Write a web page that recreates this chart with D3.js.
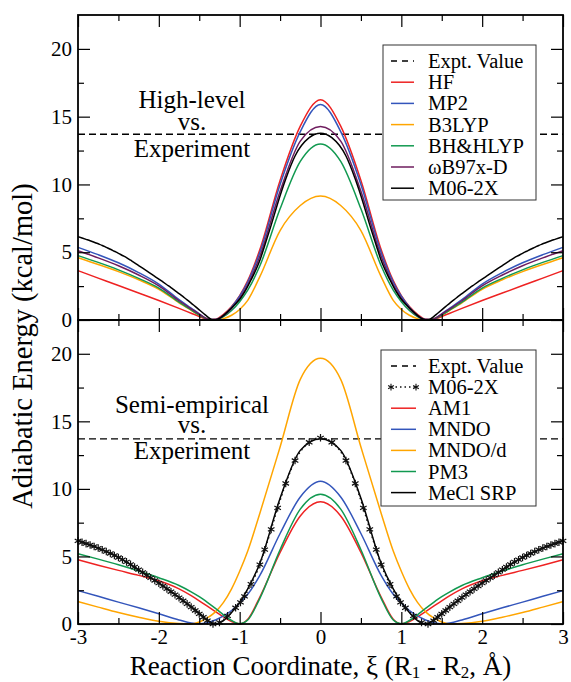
<!DOCTYPE html>
<html>
<head>
<meta charset="utf-8">
<script src="https://cdn.jsdelivr.net/npm/d3@7"></script>
<style>
    body { margin: 0; background: #fff; }
    svg text { font-family: "Liberation Serif", "Times New Roman", serif; fill: #000; }
</style>
</head>
<body>
<div id="chart"></div>
<script>

// reaction coordinate grid shared by most curves
const gridX = [-3, -2.75, -2.5, -2.25, -2, -1.75, -1.6, -1.5, -1.4, -1.3, -1.2, -1.1, -1, -0.9, -0.75, -0.5, -0.25,
    0, 0.25, 0.5, 0.75, 0.9, 1, 1.1, 1.2, 1.3, 1.4, 1.5, 1.6, 1.75, 2, 2.25, 2.5, 2.75, 3];

const exptValue = 13.7;

// high-level methods (top panel)
const hf = [3.64, 3.09, 2.54, 1.99, 1.44, 0.86, 0.5, 0.26, 0.04, 0.06, 0.42, 1.0, 1.8, 2.9, 5.2, 10.3, 14.3,
    16.25, 14.3, 10.3, 5.2, 2.9, 1.8, 1.0, 0.42, 0.06, 0.04, 0.26, 0.5, 0.86, 1.44, 1.99, 2.54, 3.09, 3.64];
const mp2 = [5.36, 4.82, 4.22, 3.5, 2.65, 1.5, 0.88, 0.46, 0.08, 0.04, 0.35, 0.95, 1.75, 2.8, 5.0, 10.0, 13.9,
    15.9, 13.9, 10.0, 5.0, 2.8, 1.75, 0.95, 0.35, 0.04, 0.08, 0.46, 0.88, 1.5, 2.65, 3.5, 4.22, 4.82, 5.36];
const b3lyp = [4.6, 4.1, 3.57, 2.97, 2.27, 1.27, 0.72, 0.36, 0.07, 0.0, 0.1, 0.35, 0.78, 1.45, 3.2, 6.6, 8.45,
    9.15, 8.45, 6.6, 3.2, 1.45, 0.78, 0.35, 0.1, 0.0, 0.07, 0.36, 0.72, 1.27, 2.27, 2.97, 3.57, 4.1, 4.6];
const bhhlyp = [4.75, 4.25, 3.7, 3.07, 2.35, 1.32, 0.74, 0.37, 0.07, 0.02, 0.25, 0.7, 1.35, 2.2, 4.0, 8.2, 11.7,
    12.99, 11.7, 8.2, 4.0, 2.2, 1.35, 0.7, 0.25, 0.02, 0.07, 0.37, 0.74, 1.32, 2.35, 3.07, 3.7, 4.25, 4.75];
const wb97xd = [5.11, 4.58, 4.0, 3.32, 2.52, 1.42, 0.82, 0.43, 0.08, 0.03, 0.3, 0.85, 1.6, 2.6, 4.7, 9.5, 13.2,
    14.27, 13.2, 9.5, 4.7, 2.6, 1.6, 0.85, 0.3, 0.03, 0.08, 0.43, 0.82, 1.42, 2.52, 3.32, 4.0, 4.58, 5.11];

// M06-2X is read at its own (IRC) points, these are also the markers in the lower panel
const m06X = [-3, -2.95, -2.9, -2.85, -2.8, -2.75, -2.7, -2.65, -2.6, -2.55, -2.5, -2.45, -2.4, -2.35, -2.3,
    -2.25, -2.2, -2.15, -2.1, -2.05, -2, -1.95, -1.9, -1.85, -1.8, -1.75, -1.7, -1.65, -1.6, -1.55, -1.5,
    -1.45, -1.4, -1.33, -1.25, -1.15, -1.05, -0.99, -0.94, -0.86, -0.75, -0.69, -0.61, -0.53, -0.43, -0.315,
    -0.14, 0, 0.14, 0.315, 0.43, 0.53, 0.61, 0.69, 0.75, 0.86, 0.94, 0.99, 1.05, 1.15, 1.25, 1.33,
    1.4, 1.45, 1.5, 1.55, 1.6, 1.65, 1.7, 1.75, 1.8, 1.85, 1.9, 1.95, 2, 2.05, 2.1, 2.15, 2.2, 2.25,
    2.3, 2.35, 2.4, 2.45, 2.5, 2.55, 2.6, 2.65, 2.7, 2.75, 2.8, 2.85, 2.9, 2.95, 3];
const m06 = [6.15, 6.05, 5.95, 5.85, 5.74, 5.62, 5.5, 5.36, 5.22, 5.07, 4.92, 4.76, 4.6, 4.41, 4.22,
    4.02, 3.82, 3.62, 3.42, 3.22, 3.02, 2.81, 2.6, 2.39, 2.17, 1.95, 1.72, 1.49, 1.25, 1.0, 0.75,
    0.5, 0.25, 0.0, 0.12, 0.6, 1.2, 1.6, 2.05, 2.95, 4.4, 5.5, 7.0, 8.6, 10.4, 12.1,
    13.45, 13.78, 13.45, 12.1, 10.4, 8.6, 7.0, 5.5, 4.4, 2.95, 2.05, 1.6, 1.2, 0.6, 0.12, 0.0,
    0.25, 0.5, 0.75, 1.0, 1.25, 1.49, 1.72, 1.95, 2.17, 2.39, 2.6, 2.81, 3.02, 3.22, 3.42, 3.62, 3.82, 4.02,
    4.22, 4.41, 4.6, 4.76, 4.92, 5.07, 5.22, 5.36, 5.5, 5.62, 5.74, 5.85, 5.95, 6.05, 6.15];

// semi-empirical methods (bottom panel)
const am1 = [4.75, 4.35, 3.97, 3.6, 3.2, 2.6, 2.1, 1.72, 1.32, 0.92, 0.52, 0.18, 0.0, 0.35, 2.0, 5.3, 8.0,
    9.05, 8.0, 5.3, 2.0, 0.35, 0.0, 0.18, 0.52, 0.92, 1.32, 1.72, 2.1, 2.6, 3.2, 3.6, 3.97, 4.35, 4.75];
const mndo = [2.47, 2.05, 1.62, 1.2, 0.76, 0.3, 0.07, 0.02, 0.1, 0.3, 0.6, 1.0, 1.55, 2.2, 3.6, 6.7, 9.4,
    10.56, 9.4, 6.7, 3.6, 2.2, 1.55, 1.0, 0.6, 0.3, 0.1, 0.02, 0.07, 0.3, 0.76, 1.2, 1.62, 2.05, 2.47];
const mndod = [1.66, 1.25, 0.85, 0.5, 0.2, 0.03, 0.0, 0.15, 0.45, 0.9, 1.6, 2.6, 3.9, 5.4, 8.2, 13.1, 18.1,
    19.66, 18.1, 13.1, 8.2, 5.4, 3.9, 2.6, 1.6, 0.9, 0.45, 0.15, 0.0, 0.03, 0.2, 0.5, 0.85, 1.25, 1.66];
const pm3 = [5.2, 4.8, 4.38, 3.92, 3.42, 2.85, 2.38, 2.02, 1.6, 1.15, 0.68, 0.26, 0.02, 0.3, 1.9, 5.5, 8.5,
    9.6, 8.5, 5.5, 1.9, 0.3, 0.02, 0.26, 0.68, 1.15, 1.6, 2.02, 2.38, 2.85, 3.42, 3.92, 4.38, 4.8, 5.2];
const meclSrp = [6.2, 5.6, 4.95, 3.98, 3.05, 1.98, 1.28, 0.8, 0.3, 0.0, 0.25, 0.85, 1.6, 2.6, 4.5, 9.3, 12.85,
    13.72, 12.85, 9.3, 4.5, 2.6, 1.6, 0.85, 0.25, 0.0, 0.3, 0.8, 1.28, 1.98, 3.05, 3.98, 4.95, 5.6, 6.2];

// axis ticks
const yTicks = [0, 5, 10, 15, 20];
const yMinorTicks = [2.5, 7.5, 12.5, 17.5];
const xTicks = [-3, -2, -1, 0, 1, 2, 3];
const xMinorTicks = [-2.5, -1.5, -0.5, 0.5, 1.5, 2.5];

const colors = {
    red: "#ee2222", blue: "#3355bb", orange: "#ffa500",
    green: "#119950", purple: "#6e1c5e", black: "#000"
};


class EnergyPanel {

    constructor(svg, config) {
        this.svg = svg;
        this.config = config;

        this.initVis();
    }

    /*
     * Frame, scales and axes
     */

    initVis() {
        let vis = this;

        vis.margin = { left: 78, top: vis.config.top };
        vis.width = 485;
        vis.height = vis.config.height;

        vis.g = vis.svg.append("g")
            .attr("transform", "translate(" + vis.margin.left + "," + vis.margin.top + ")");

        vis.x = d3.scaleLinear()
            .domain([-3, 3])
            .range([0, vis.width]);

        vis.y = d3.scaleLinear()
            .domain([0, 22.5])
            .range([vis.height, 0]);

        vis.updateVis();
    }


    /*
     * The drawing function
     */

    updateVis() {
        let vis = this;

        // experimental barrier
        vis.g.append("line")
            .attr("x1", 0)
            .attr("x2", vis.width)
            .attr("y1", vis.y(exptValue))
            .attr("y2", vis.y(exptValue))
            .attr("stroke", "#000")
            .attr("stroke-width", 1.4)
            .attr("stroke-dasharray", "7,4");

        vis.line = d3.line()
            .x(d => vis.x(d.x))
            .y(d => vis.y(d.y))
            .curve(d3.curveMonotoneX);

        vis.config.series.forEach(s => {
            let xs = s.xs || gridX;
            let pts = xs.map((v, i) => ({ x: v, y: s.values[i] }));

            vis.g.append("path")
                .datum(pts)
                .attr("fill", "none")
                .attr("stroke", s.color)
                .attr("stroke-width", s.dotted ? 1.6 : 1.5)
                .attr("stroke-dasharray", s.dotted ? "1.5,3" : null)
                .attr("d", vis.line);

            if (s.markers) {
                vis.g.append("g")
                    .selectAll("path")
                    .data(pts)
                    .join("path")
                    .attr("transform", d => "translate(" + vis.x(d.x) + "," + vis.y(d.y) + ")")
                    .attr("d", d3.symbol(d3.symbolAsterisk, 40))
                    .attr("fill", "none")
                    .attr("stroke", "#111")
                    .attr("stroke-width", 1.2);
            }
        });

        // axes, ticks point inwards on all four sides
        let axes = [
            { gen: d3.axisLeft, scale: vis.y, t: null, major: yTicks, minor: yMinorTicks, labels: true },
            { gen: d3.axisRight, scale: vis.y, t: "translate(" + vis.width + ",0)", major: yTicks, minor: yMinorTicks },
            { gen: d3.axisTop, scale: vis.x, t: null, major: xTicks, minor: xMinorTicks },
            { gen: d3.axisBottom, scale: vis.x, t: "translate(0," + vis.height + ")", major: xTicks, minor: xMinorTicks,
                labels: vis.config.xLabels }
        ];

        axes.forEach(a => {
            let major = a.gen(a.scale)
                .tickValues(a.major)
                .tickSize(-12)
                .tickPadding(a.gen === d3.axisBottom ? 5 : 6)
                .tickFormat(a.labels ? (d => String(d)) : "");
            let minor = a.gen(a.scale)
                .tickValues(a.minor)
                .tickSize(-6)
                .tickFormat("");

            let ga = vis.g.append("g").attr("transform", a.t).call(major);
            let gm = vis.g.append("g").attr("transform", a.t).call(minor);
            [ga, gm].forEach(g => {
                g.select(".domain").remove();
                g.selectAll("line").attr("stroke", "#000").attr("stroke-width", 1.2);
            });
            ga.selectAll("text")
                .attr("font-size", 21)
                .attr("fill", "#000")
                .style("font-family", "Liberation Serif");
        });

        vis.g.append("rect")
            .attr("width", vis.width)
            .attr("height", vis.height)
            .attr("fill", "none")
            .attr("stroke", "#000")
            .attr("stroke-width", 1.8);

        // legend box
        let lg = vis.config.legend;
        let legend = vis.svg.append("g");
        legend.append("rect")
            .attr("x", lg.x)
            .attr("y", lg.y)
            .attr("width", lg.w)
            .attr("height", lg.h)
            .attr("fill", "#fff")
            .attr("stroke", "#333")
            .attr("stroke-width", 1);

        lg.items.forEach((item, i) => {
            let cy = lg.firstRow + i * lg.step;
            let row = legend.append("g");
            row.append("line")
                .attr("x1", lg.x1).attr("x2", lg.x2)
                .attr("y1", cy).attr("y2", cy)
                .attr("stroke", item.color)
                .attr("stroke-width", 1.5)
                .attr("stroke-dasharray", item.dash ? "6,5" : (item.dotted ? "1.5,3" : null));
            if (item.markers) {
                row.selectAll("path")
                    .data([lg.x1, lg.x2])
                    .join("path")
                    .attr("transform", d => "translate(" + d + "," + cy + ")")
                    .attr("d", d3.symbol(d3.symbolAsterisk, 30))
                    .attr("stroke", "#111")
                    .attr("stroke-width", 1.1);
            }
            row.append("text")
                .attr("x", lg.textX)
                .attr("y", cy + 7)
                .attr("font-size", 20.5)
                .text(item.label);
        });

        // annotation
        let note = vis.svg.append("text")
            .attr("text-anchor", "middle")
            .attr("font-size", 25);
        vis.config.note.forEach(n => {
            note.append("tspan")
                .attr("x", 192)
                .attr("y", n.y)
                .text(n.text);
        });
    }
}


let svg = d3.select("#chart").append("svg")
    .attr("width", 571)
    .attr("height", 682);

new EnergyPanel(svg, {
    top: 15,
    height: 305,
    xLabels: false,
    series: [
        { name: "HF", values: hf, color: colors.red },
        { name: "MP2", values: mp2, color: colors.blue },
        { name: "B3LYP", values: b3lyp, color: colors.orange },
        { name: "BH&HLYP", values: bhhlyp, color: colors.green },
        { name: "ωB97x-D", values: wb97xd, color: colors.purple },
        { name: "M06-2X", xs: m06X, values: m06, color: colors.black }
    ],
    legend: {
        x: 383, y: 45, w: 153, h: 155, firstRow: 61, step: 21.2, x1: 391, x2: 414, textX: 428,
        items: [
            { label: "Expt. Value", color: "#000", dash: true },
            { label: "HF", color: colors.red },
            { label: "MP2", color: colors.blue },
            { label: "B3LYP", color: colors.orange },
            { label: "BH&HLYP", color: colors.green },
            { label: "ωB97x-D", color: colors.purple },
            { label: "M06-2X", color: colors.black }
        ]
    },
    note: [
        { text: "High-level", y: 108 },
        { text: "vs.", y: 130 },
        { text: "Experiment", y: 157 }
    ]
});

new EnergyPanel(svg, {
    top: 320,
    height: 304,
    xLabels: true,
    series: [
        { name: "AM1", values: am1, color: colors.red },
        { name: "MNDO", values: mndo, color: colors.blue },
        { name: "MNDO/d", values: mndod, color: colors.orange },
        { name: "PM3", values: pm3, color: colors.green },
        { name: "MeCl SRP", values: meclSrp, color: colors.black },
        { name: "M06-2X", xs: m06X, values: m06, color: "#111", dotted: true, markers: true }
    ],
    legend: {
        x: 381, y: 350, w: 155, h: 156, firstRow: 366, step: 21.1, x1: 391, x2: 416, textX: 428,
        items: [
            { label: "Expt. Value", color: "#000", dash: true },
            { label: "M06-2X", color: "#111", dotted: true, markers: true },
            { label: "AM1", color: colors.red },
            { label: "MNDO", color: colors.blue },
            { label: "MNDO/d", color: colors.orange },
            { label: "PM3", color: colors.green },
            { label: "MeCl SRP", color: colors.black }
        ]
    },
    note: [
        { text: "Semi-empirical", y: 413 },
        { text: "vs.", y: 433 },
        { text: "Experiment", y: 459 }
    ]
});

// axis titles
svg.append("text")
    .attr("transform", "translate(32,346) rotate(-90)")
    .attr("text-anchor", "middle")
    .attr("font-size", 28.5)
    .text("Adiabatic Energy (kcal/mol)");

let xTitle = svg.append("text")
    .attr("x", 320.5)
    .attr("y", 674.5)
    .attr("text-anchor", "middle")
    .attr("font-size", 27);
xTitle.append("tspan").text("Reaction Coordinate, ξ (R");
xTitle.append("tspan").attr("font-size", 17).attr("dy", 3.5).text("1");
xTitle.append("tspan").attr("dy", -3.5).text(" - R");
xTitle.append("tspan").attr("font-size", 17).attr("dy", 3.5).text("2");
xTitle.append("tspan").attr("dy", -3.5).text(", Å)");

</script>
</body>
</html>
